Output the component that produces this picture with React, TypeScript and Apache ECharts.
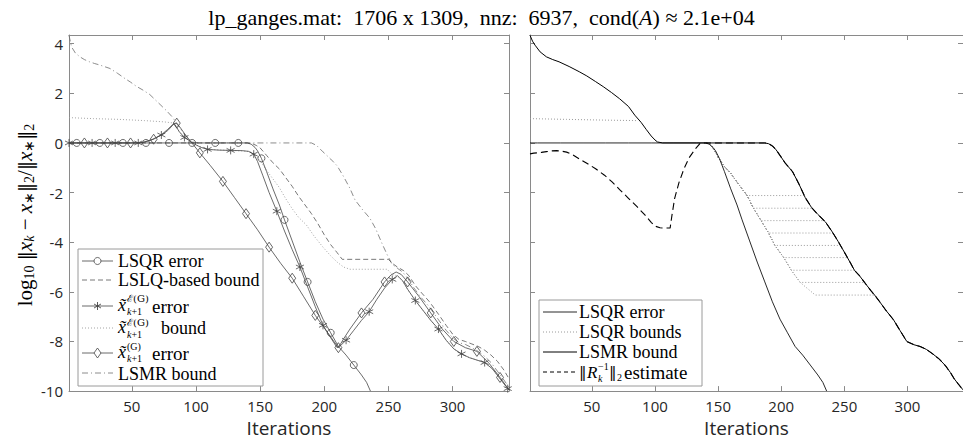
import React, { useEffect, useRef } from "react";
import * as echarts from "echarts";

type P = [number, number];

// ---------------- data ----------------
const X_MIN = 1;
const X_MAX = 344;
const Y_MIN = -10;
const Y_MAX = 4.35;
const Y_STEP = 2;
const MARK_STEP = 18;
const circleStart = 7;
const starStart = 1;
const diamondStart = 13;

const titleText = "lp_ganges.mat:  1706 x 1309,  nnz:  6937,  cond({i|A}) ≈ 2.1e+04";
const yLabelText =
  "{r|log}{s|10} {n|‖}{i|x}{si|k}{r| − }{i|x}{s|∗}{n|‖}{s|2}{r|/}{n|‖}{i|x}{s|∗}{n|‖}{s|2}";

// LSQR error (shared by both panels)
const lsqrError: P[] = [
  [1, 0], [7, 0], [25, 0], [43, 0], [61, 0], [79, 0], [97, 0], [115, 0], [133, 0], [140, 0],
  [143, -0.05], [146, -0.18], [148, -0.32], [151, -0.62], [155, -1.15], [160, -1.85], [165, -2.5],
  [169, -3.1], [175, -3.95], [181, -4.8], [187, -5.6], [193, -6.4], [199, -7.1], [205, -7.65],
  [211, -8.2], [217, -8.55], [223, -8.95], [229, -9.35], [233, -9.65], [236, -10],
];

// x~E(G) error (stars)
const starError: P[] = [
  [1, 0], [19, 0], [37, 0], [55, 0], [60, 0.03], [65, 0.12], [69, 0.22], [73, 0.32], [78, 0.5],
  [83, 0.78], [87, 0.45], [91, 0.22], [96, 0.05], [100, -0.08], [104, -0.18], [109, -0.26],
  [118, -0.29], [127, -0.3], [136, -0.31], [141, -0.34], [145, -0.45], [148, -0.75], [152, -1.3],
  [157, -2.0], [163, -2.75], [169, -3.55], [175, -4.3], [181, -5.0], [187, -5.8], [193, -6.6],
  [199, -7.35], [205, -7.85], [210, -8.25], [213, -8.15], [217, -7.95], [223, -7.55], [229, -7.15],
  [235, -6.8], [241, -6.3], [247, -5.85], [253, -5.5], [257, -5.35], [261, -5.55], [265, -5.9],
  [271, -6.35], [277, -6.75], [283, -7.15], [289, -7.5], [295, -7.95], [301, -8.3], [307, -8.5],
  [313, -8.65], [319, -8.75], [325, -8.85], [331, -9.1], [337, -9.5], [343, -9.9], [344, -9.95],
];

// x~(G) error (diamonds)
const diamondError: P[] = [
  [1, 0], [13, 0], [31, 0], [49, 0], [58, 0.02], [67, 0.15], [73, 0.33], [78, 0.55], [82, 0.75],
  [85, 0.8], [88, 0.6], [91, 0.38], [96, 0.05], [103, -0.4], [111, -0.9], [121, -1.55], [130, -2.2],
  [139, -2.85], [148, -3.5], [157, -4.2], [166, -4.85], [175, -5.45], [184, -6.2], [193, -6.95],
  [202, -7.6], [211, -8.25], [215, -7.9], [220, -7.5], [229, -6.85], [238, -6.3], [247, -5.6],
  [252, -5.32], [256, -5.2], [260, -5.3], [265, -5.6], [274, -6.2], [283, -6.85], [292, -7.5],
  [301, -8.0], [310, -8.25], [319, -8.4], [328, -8.85], [337, -9.45], [344, -9.95],
];

// LSLQ-based bound (dashed, left)
const lslqBound: P[] = [
  [1, 0], [140, 0], [144, -0.03], [147, -0.1], [150, -0.2], [155, -0.5], [160, -0.8], [165, -1.05],
  [170, -1.4], [175, -1.75], [180, -2.15], [185, -2.5], [190, -2.85], [195, -3.25], [200, -3.7],
  [205, -4.1], [210, -4.42], [214, -4.69], [250, -4.69], [253, -4.85], [257, -5.0], [262, -5.15],
  [266, -5.35], [271, -5.75], [276, -6.05], [282, -6.4], [289, -6.9], [295, -7.35], [300, -7.7],
  [305, -7.92], [310, -8.0], [315, -8.1], [320, -8.2], [325, -8.35], [330, -8.55], [335, -8.8],
  [340, -9.15], [344, -9.5],
];

// x~E(G) bound (dotted, left)
const starBound: P[] = [
  [1, 1.02], [20, 0.98], [40, 0.95], [60, 0.9], [75, 0.85], [83, 0.8], [87, 0.45], [91, 0.22],
  [96, 0.05], [100, -0.08], [109, -0.26], [127, -0.3], [141, -0.34], [145, -0.42], [150, -0.72],
  [155, -1.1], [160, -1.45], [165, -1.8], [170, -2.25], [175, -2.65], [180, -3.0], [186, -3.3],
  [192, -3.75], [199, -4.2], [205, -4.55], [210, -4.8], [215, -5.0], [220, -5.09], [249, -5.09],
  [253, -5.3], [257, -5.35], [261, -5.55], [265, -5.9], [271, -6.35], [277, -6.75], [283, -7.15],
  [289, -7.5], [295, -7.95], [301, -8.3], [307, -8.5], [313, -8.65], [319, -8.75], [325, -8.85],
  [331, -9.1], [337, -9.5], [344, -9.95],
];

// LSMR bound (dash-dot, left)
const lsmrBoundLeft: P[] = [
  [1, 4.33], [3, 3.87], [6, 3.62], [9.5, 3.47], [13, 3.36], [17, 3.27], [21, 3.2], [25, 3.14],
  [29, 3.07], [33, 3.0], [39, 2.8], [44.5, 2.6], [49, 2.45], [53.6, 2.28], [59, 2.12], [64, 1.95],
  [68, 1.75], [72, 1.55], [77, 1.3], [82, 1.02], [86, 0.7], [90, 0.42], [94, 0.15], [98, 0.03],
  [102, 0], [190, 0], [194, -0.1], [199, -0.36], [205, -0.65], [210, -0.92], [215, -1.35],
  [220, -1.83], [224, -2.3], [230, -2.7], [235.5, -3.03], [240, -3.45], [245, -4.05], [249, -4.5],
  [253, -4.9], [257, -5.05], [261, -5.2], [265, -5.45], [270, -5.85], [275, -6.2], [281, -6.55],
  [288, -7.05], [295, -7.55], [300, -7.85], [305, -8.05], [310, -8.12], [315, -8.25], [320, -8.4],
  [325, -8.6], [330, -8.85], [335, -9.2], [340, -9.55], [344, -9.85],
];

// LSMR bound (solid, right)
const lsmrBoundRight: P[] = [
  [1, 4.34], [3, 4.1], [5, 3.94], [9, 3.67], [14, 3.47], [19, 3.36], [24, 3.27], [32, 3.08],
  [40, 2.87], [46, 2.7], [53, 2.47], [59, 2.27], [65.6, 2.03], [72, 1.78], [79, 1.47], [84, 1.12],
  [89, 0.83], [93, 0.55], [97, 0.28], [100, 0.12], [102, 0.04], [106, 0], [187, 0], [190, -0.03],
  [193, -0.12], [196, -0.28], [199, -0.5], [203, -0.8], [209, -1.16], [214, -1.65], [219, -2.2],
  [224, -2.6], [229, -2.88], [235, -3.18], [240, -3.55], [245, -3.96], [250, -4.4], [255, -4.85],
  [258, -5.13], [262, -5.35], [266, -5.62], [271, -5.95], [274, -6.13], [278, -6.4], [283, -6.75],
  [289, -7.13], [294, -7.55], [299.5, -8.0], [305, -8.13], [310, -8.2], [315, -8.32], [320, -8.5],
  [325, -8.7], [330, -8.97], [334, -9.25], [337, -9.5], [340, -9.7], [344, -9.95],
];

// ||R_k^{-1}||_2 estimate (dashed, right), before it joins the LSMR bound
const rinvEstimate: P[] = [
  [1, -0.44], [4, -0.41], [7, -0.4], [10, -0.38], [14, -0.35], [18, -0.32], [22, -0.31],
  [26, -0.33], [30, -0.37], [35, -0.48], [40, -0.64], [46, -0.82], [53, -1.04], [60, -1.3],
  [66, -1.57], [72, -1.88], [79, -2.23], [86, -2.58], [92, -2.9], [97, -3.2], [100, -3.35],
  [104, -3.42], [108, -3.43], [112, -3.43], [113.5, -2.9], [115.6, -2.23], [119, -1.6],
  [123, -1.04], [127, -0.6], [132, -0.24], [136, 0], [187, 0],
];

// LSQR bounds (dotted, right)
const lsqrBoundTop: P[] = [[1, 0.98], [30, 0.95], [60, 0.92], [86.5, 0.9]];
const lsqrBoundEnvelope: P[] = [
  [141, 0], [144, -0.08], [147, -0.28], [150, -0.58], [155, -0.95], [160, -1.22], [165, -1.58],
  [170, -1.92], [173, -2.12], [178, -2.63], [184, -3.13], [190, -3.63], [195, -4.13], [202, -4.62],
  [208, -5.13], [215, -5.62], [227, -6.13],
];
const lsqrBoundLevels = [-2.12, -2.63, -3.13, -3.63, -4.13, -4.62, -5.13, -5.62, -6.13];
const lsqrBoundEnds = [218, 225, 234, 241, 247, 252.5, 258, 266, 274];

// ---------------- styles ----------------
const AXIS = "#8a8a8a";
const TICK_TEXT = "#262626";
const SERIF = "Liberation Serif";
const SANS = "Open Sans";
const LEFT_LINE = "#454545";
const STAR_PATH = "path://M5,0L5,10M0.67,2.5L9.33,7.5M0.67,7.5L9.33,2.5";

function marked(data: P[], start: number, symbol: string) {
  return data.map(([k, y]) => ({
    value: [k, y],
    symbol: k >= start && (k - start) % MARK_STEP === 0 ? symbol : "none",
  }));
}

function App() {
  const ref = useRef<HTMLDivElement>(null);

  useEffect(() => {
    if (!ref.current) return;
    const chart = echarts.init(ref.current, null, { renderer: "svg" });

    const xAxis = (gridIndex: number, position: "bottom" | "top") => ({
      type: "value",
      gridIndex,
      position,
      min: X_MIN,
      max: X_MAX,
      splitNumber: 7,
      axisLine: { show: true, onZero: false, lineStyle: { color: AXIS, width: 1 } },
      axisTick: { show: true, inside: true, length: 5, lineStyle: { color: AXIS, width: 1 } },
      axisLabel: {
        show: position === "bottom",
        showMinLabel: false,
        showMaxLabel: false,
        margin: 7,
        color: TICK_TEXT,
        fontFamily: SANS,
        fontSize: 15,
      },
      splitLine: { show: false },
      name: position === "bottom" ? "Iterations" : "",
      nameLocation: "middle",
      nameGap: 26,
      nameTextStyle: { color: TICK_TEXT, fontFamily: SANS, fontSize: 19 },
    });

    const yAxis = (gridIndex: number, position: "left" | "right", labels: boolean) => ({
      type: "value",
      gridIndex,
      position,
      min: Y_MIN,
      max: Y_MAX,
      interval: Y_STEP,
      axisLine: { show: true, onZero: false, lineStyle: { color: AXIS, width: 1 } },
      axisTick: { show: true, inside: true, length: 5, lineStyle: { color: AXIS, width: 1 } },
      axisLabel: {
        show: labels,
        showMaxLabel: false,
        margin: 6,
        color: TICK_TEXT,
        fontFamily: SANS,
        fontSize: 15,
      },
      splitLine: { show: false },
    });

    const line = (
      name: string,
      data: any[],
      axis: number,
      color: string,
      width: number,
      dash: any,
      extra: any = {}
    ) => ({
      type: "line",
      name,
      xAxisIndex: axis,
      yAxisIndex: axis,
      data,
      symbol: "none",
      showSymbol: true,
      showAllSymbol: true,
      lineStyle: { color, width, type: dash },
      itemStyle: { color: "rgba(0,0,0,0)", borderColor: color, borderWidth: 0.8 },
      emphasis: { disabled: true },
      z: 3,
      ...extra,
    });

    const boundSeries = lsqrBoundLevels.map((lev, i) => {
      const pts: P[] = lsqrBoundEnvelope.filter(([, y]) => y >= lev - 1e-9);
      pts.push([lsqrBoundEnds[i], lev]);
      return line("LSQR bounds", pts, 2, "#9a9a9a", 1, [1, 2]);
    });

    const rinvFull: P[] = rinvEstimate.concat(
      lsmrBoundRight.filter(([k]) => k > rinvEstimate[rinvEstimate.length - 1][0])
    );

    const series: any[] = [
      // left panel
      line("LSMR bound L", lsmrBoundLeft, 0, "#6e6e6e", 0.8, [6, 3, 1, 3]),
      line("x~E(G) bound", starBound, 0, "#9a9a9a", 0.9, [1, 2]),
      line("LSLQ-based bound", lslqBound, 0, "#555", 0.8, [5, 3]),
      line("LSQR error L", marked(lsqrError, circleStart, "circle"), 0, LEFT_LINE, 0.8, "solid", {
        symbolSize: 7,
      }),
      line("x~E(G) error", marked(starError, starStart, STAR_PATH), 0, LEFT_LINE, 0.8, "solid", {
        symbolSize: [8, 8],
      }),
      line("x~(G) error", marked(diamondError, diamondStart, "diamond"), 0, LEFT_LINE, 0.8, "solid", {
        symbolSize: [7, 10],
      }),
      // right panel
      line("LSQR bounds", lsqrBoundTop, 2, "#9a9a9a", 1, [1, 2]),
      ...boundSeries,
      line("LSQR error", lsqrError, 2, "#111", 0.9, "solid"),
      line("LSMR bound", lsmrBoundRight, 2, "#000", 1.0, "solid"),
      line("R estimate", rinvFull, 2, "#000", 1.1, [7, 4]),
    ];

    // ----- legends and y label drawn as graphics -----
    const Z = 100;
    const T = (x: number, y: number, text: string, st: any = {}) => ({
      type: "text",
      x,
      y,
      z: Z + 2,
      style: {
        text,
        fill: "#000",
        fontFamily: SERIF,
        fontSize: 18,
        align: "left",
        verticalAlign: "middle",
        ...st,
      },
    });
    const L = (x1: number, y: number, x2: number, stroke: string, lineWidth: number, lineDash?: number[]) => ({
      type: "line",
      z: Z + 1,
      shape: { x1, y1: y, x2, y2: y },
      style: { stroke, lineWidth, lineDash },
    });
    const star = (cx: number, cy: number, stroke: string) => {
      const r = 4;
      const a = r * Math.cos(Math.PI / 6);
      const b = r * Math.sin(Math.PI / 6);
      return [
        { type: "line", z: Z + 2, shape: { x1: cx, y1: cy - r, x2: cx, y2: cy + r }, style: { stroke, lineWidth: 0.9 } },
        { type: "line", z: Z + 2, shape: { x1: cx - a, y1: cy - b, x2: cx + a, y2: cy + b }, style: { stroke, lineWidth: 0.9 } },
        { type: "line", z: Z + 2, shape: { x1: cx - a, y1: cy + b, x2: cx + a, y2: cy - b }, style: { stroke, lineWidth: 0.9 } },
      ];
    };
    const xt = { fontStyle: "italic", lineHeight: 15 };
    const sub = {
      fontSize: 10,
      lineHeight: 9,
      rich: { i: { fontSize: 10, lineHeight: 9, fontStyle: "italic", fontFamily: SERIF } },
    };
    const sup = { fontSize: 10, lineHeight: 9, fontFamily: "DejaVu Serif" };

    const lx1 = 82, lx2 = 113, lmx = 97.5, ltx = 118, mx = 127;
    const leftLegend: any[] = [
      { type: "rect", z: Z, shape: { x: 78, y: 249, width: 185, height: 137 }, style: { fill: "#fff", stroke: "#9a9a9a", lineWidth: 1 } },
      L(lx1, 261, lx2, LEFT_LINE, 0.8),
      { type: "circle", z: Z + 2, shape: { cx: lmx, cy: 261, r: 3.5 }, style: { fill: "#fff", stroke: LEFT_LINE, lineWidth: 0.8 } },
      T(ltx, 261, "LSQR error"),
      L(lx1, 280, lx2, "#555", 0.8, [5, 3]),
      T(ltx, 280, "LSLQ-based bound"),
      // x~E(G) error
      L(lx1, 306, lx2, LEFT_LINE, 0.8),
      ...star(lmx, 306, LEFT_LINE),
      T(ltx, 305, "x̃", xt),
      T(mx, 298.5, "ℰ(G)", sup),
      T(mx, 311.5, "{i|k}+1", sub),
      T(152, 306, "error", { fontSize: 19 }),
      // x~E(G) bound
      L(lx1, 328, lx2, "#9a9a9a", 0.9, [1, 2]),
      T(ltx, 327, "x̃", xt),
      T(mx, 322.5, "ℰ(G)", sup),
      T(mx, 334.5, "{i|k}+1", sub),
      T(161, 328, "bound"),
      // x~(G) error
      L(lx1, 353, lx2, LEFT_LINE, 0.8),
      {
        type: "polygon",
        z: Z + 2,
        shape: { points: [[lmx, 348], [lmx + 3.5, 353], [lmx, 358], [lmx - 3.5, 353]] },
        style: { fill: "#fff", stroke: LEFT_LINE, lineWidth: 0.8 },
      },
      T(ltx, 352, "x̃", xt),
      T(mx, 346, "(G)", { fontSize: 10, lineHeight: 9 }),
      T(mx, 358, "{i|k}+1", sub),
      T(152, 353, "error", { fontSize: 19 }),
      L(lx1, 373, lx2, "#6e6e6e", 0.8, [6, 3, 1, 3]),
      T(ltx, 373.5, "LSMR bound", { lineHeight: 17 }),
    ];

    const rx1 = 543, rx2 = 577, rtx = 579;
    const bars = { fontFamily: "DejaVu Serif", fontSize: 15, lineHeight: 15 };
    const rightLegend: any[] = [
      { type: "rect", z: Z, shape: { x: 539, y: 300, width: 163, height: 86 }, style: { fill: "#fff", stroke: "#9a9a9a", lineWidth: 1 } },
      L(rx1, 312, rx2, "#111", 0.9),
      T(rtx, 312, "LSQR error"),
      L(rx1, 332, rx2, "#9a9a9a", 1, [1, 2]),
      T(rtx, 332, "LSQR bounds"),
      L(rx1, 352, rx2, "#000", 1.0),
      T(rtx, 352, "LSMR bound"),
      L(rx1, 372, rx2, "#000", 1.0, [4, 3]),
      T(rtx, 372, "‖", bars),
      T(587, 372, "R", { fontStyle: "italic", fontSize: 17, lineHeight: 15 }),
      T(598, 366, "−1", { fontSize: 10, lineHeight: 9 }),
      T(598, 378.5, "k", { fontSize: 10, lineHeight: 9, fontStyle: "italic" }),
      T(609, 372, "‖", bars),
      T(617, 377.5, "2", { fontSize: 10, lineHeight: 9 }),
      T(624, 372, "estimate", { fontSize: 19 }),
    ];

    const yLabel = {
      type: "text",
      x: 25,
      y: 215,
      rotation: Math.PI / 2,
      z: Z,
      style: {
        text: yLabelText,
        align: "center",
        verticalAlign: "middle",
        fill: "#000",
        fontFamily: SERIF,
        fontSize: 21,
        rich: {
          r: { fontFamily: SERIF, fontSize: 21, fill: "#000" },
          n: { fontFamily: "DejaVu Serif", fontSize: 18, fill: "#000" },
          i: { fontFamily: SERIF, fontSize: 21, fontStyle: "italic", fill: "#000" },
          s: { fontFamily: SERIF, fontSize: 14, fill: "#000", padding: [9, 0, 0, 0] },
          si: { fontFamily: SERIF, fontSize: 14, fontStyle: "italic", fill: "#000", padding: [9, 0, 0, 0] },
        },
      },
    };

    chart.setOption({
      animation: false,
      backgroundColor: "#fff",
      title: {
        text: titleText,
        left: "center",
        top: 6,
        padding: [0, 0, 0, 10],
        textStyle: {
          fontFamily: SERIF,
          fontSize: 22,
          fontWeight: "normal",
          color: "#000",
          rich: { i: { fontFamily: SERIF, fontSize: 22, fontStyle: "italic", color: "#000" } },
        },
      },
      grid: [
        { left: 69, top: 35, width: 440, height: 361, containLabel: false },
        { left: 530, top: 35, width: 440, height: 361, containLabel: false },
      ],
      xAxis: [xAxis(0, "bottom"), xAxis(0, "top"), xAxis(1, "bottom"), xAxis(1, "top")],
      yAxis: [yAxis(0, "left", true), yAxis(0, "right", false), yAxis(1, "left", false), yAxis(1, "right", false)],
      series,
      graphic: [yLabel, ...leftLegend, ...rightLegend],
    });

    return () => chart.dispose();
  }, []);

  return (
    <div
      ref={ref}
      style={{ position: "fixed", left: 0, top: 0, width: 963, height: 442, background: "#fff" }}
    />
  );
}

export default App;
